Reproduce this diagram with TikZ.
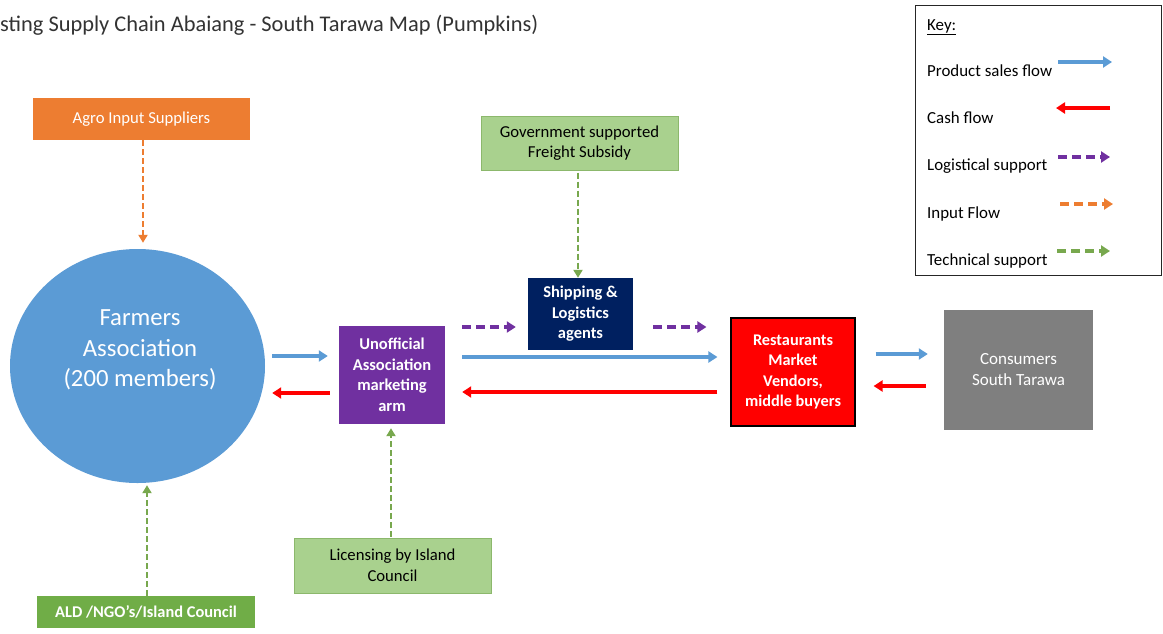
\documentclass[tikz,border=0pt]{standalone}
\usepackage{fontspec}
\setmainfont{Carlito}
\usetikzlibrary{arrows.meta,calc,shapes.geometric}
\definecolor{cblue}{HTML}{5B9BD5}
\definecolor{cred}{HTML}{FF0000}
\definecolor{cpurple}{HTML}{7030A0}
\definecolor{corange}{HTML}{ED7D31}
\definecolor{cgreen}{HTML}{70AD47}
\definecolor{clgreen}{HTML}{A9D18E}
\definecolor{clgreenb}{HTML}{8CB86C}
\definecolor{cnavy}{HTML}{002060}
\definecolor{cgray}{HTML}{7F7F7F}
\definecolor{cdash}{HTML}{78A84E}
\tikzset{
  box/.style={rectangle, inner sep=0pt, align=center, font=\fontsize{16.7}{20.5}\selectfont},
  wbox/.style={box, text=white},
  salesarrow/.style={draw=cblue, line width=3.5pt, -{Triangle[width=11pt,length=9pt]}},
  casharrow/.style={draw=cred, line width=3.5pt, -{Triangle[width=11pt,length=9pt]}},
  logiarrow/.style={draw=cpurple, line width=3.5pt, dash pattern=on 9pt off 5pt, -{Triangle[width=11pt,length=9pt]}},
  inputarrow/.style={draw=corange, line width=2.5pt, dash pattern=on 6pt off 3pt, -{Triangle[width=9pt,length=8pt]}},
  techarrow/.style={draw=cdash, line width=2.5pt, dash pattern=on 6pt off 3pt, -{Triangle[width=9pt,length=8pt]}},
  keyinput/.style={draw=corange, line width=3.5pt, dash pattern=on 9pt off 5pt, -{Triangle[width=11pt,length=9pt]}},
  keytech/.style={draw=cdash, line width=3.5pt, dash pattern=on 9pt off 5pt, -{Triangle[width=11pt,length=9pt]}},
  keytext/.style={anchor=base west, inner sep=0pt, font=\fontsize{16.9}{18}\selectfont},
}
\begin{document}
\begin{tikzpicture}[x=1pt,y=-1pt]
\useasboundingbox (0,0) rectangle (1163,633);
\fill[white] (0,0) rectangle (1163,633);

% title
\node[anchor=base west, inner sep=0pt, font=\fontsize{22.4}{26}\selectfont, text=black!80] (title) at (0,31) {sting Supply Chain Abaiang - South Tarawa Map (Pumpkins)};

% nodes
\node[wbox, fill=corange, minimum width=217pt, minimum height=42pt] (agro) at (141.5,119) {Agro Input Suppliers};
\node[ellipse, fill=cblue, minimum width=255pt, minimum height=234pt, inner sep=0pt] (farm) at (137.5,366) {};
\node[text=white, align=center, inner sep=0pt, font=\fontsize{24.7}{30.5}\selectfont] (farmt) at (140,350) {Farmers\\Association\\(200 members)};
\node[wbox, fill=cgreen, minimum width=218pt, minimum height=32pt, font=\fontsize{16.4}{18}\bfseries\selectfont] (ald) at (146,612) {ALD /NGO's/Island Council};
\node[wbox, fill=cpurple, minimum width=106pt, minimum height=98pt, font=\fontsize{16.5}{20.5}\bfseries\selectfont] (unof) at (392,375) {Unofficial\\Association\\marketing\\arm};
\node[box, fill=clgreen, draw=clgreenb, line width=1pt, minimum width=197pt, minimum height=55pt] (lic) at (392.5,565.5) {Licensing by Island\\Council};
\node[box, fill=clgreen, draw=clgreenb, line width=1pt, minimum width=197pt, minimum height=54pt] (gov) at (579.5,143) {Government supported\\Freight Subsidy};
\node[wbox, fill=cnavy, minimum width=105pt, minimum height=72pt, font=\fontsize{16.5}{20.5}\bfseries\selectfont] (ship) at (580.5,314) {Shipping \&\\Logistics\\agents};
\node[wbox, fill=cred, draw=black, line width=1.2pt, minimum width=124pt, minimum height=108pt, font=\fontsize{16.3}{20.3}\bfseries\selectfont] (rest) at (793,372) {Restaurants\\Market\\Vendors,\\middle buyers};
\node[wbox, fill=cgray, minimum width=149pt, minimum height=120pt, font=\fontsize{17}{21}\selectfont] (cons) at (1018.5,370) {Consumers\\South Tarawa};

% connectors
\draw[inputarrow, shorten >=6pt] (agro.south -| 143,0) -- (farm.north -| 143,0);
\draw[techarrow, shorten >=2pt] (ald.north -| 147,0) -- (farm.south -| 147,0);
\draw[salesarrow, shorten <=7pt, shorten >=11pt] (farm.east |- 0,356) -- (unof.west |- 0,356);
\draw[casharrow, shorten <=9pt, shorten >=7pt] (unof.west |- 0,393) -- (farm.east |- 0,393);
\draw[techarrow, shorten <=1pt, shorten >=4pt] (lic.north -| 391,0) -- (unof.south -| 391,0);
\draw[techarrow, shorten <=2pt, shorten >=0pt] (gov.south -| 578,0) -- (ship.north -| 578,0);
\draw[logiarrow, shorten <=17pt, shorten >=12pt] (unof.east |- 0,327) -- (ship.west |- 0,327);
\draw[logiarrow, shorten <=20pt, shorten >=24pt] (ship.east |- 0,327) -- (rest.west |- 0,327);
\draw[salesarrow, shorten <=17pt, shorten >=13pt] (unof.east |- 0,357) -- (rest.west |- 0,357);
\draw[casharrow, shorten <=13pt, shorten >=17pt] (rest.west |- 0,392) -- (unof.east |- 0,392);
\draw[salesarrow, shorten <=20pt, shorten >=16pt] (rest.east |- 0,354) -- (cons.west |- 0,354);
\draw[casharrow, shorten <=18pt, shorten >=18pt] (cons.west |- 0,386) -- (rest.east |- 0,386);

% key
\node[draw=black!85, line width=1.3pt, minimum width=246pt, minimum height=270pt, inner sep=0pt] (key) at (1038.5,140.5) {};
\node[keytext] (keyt) at (927,30) {\underline{Key:}};
\node[keytext] (k1) at (927,76) {Product sales flow};
\node[keytext] (k2) at (927,123) {Cash flow};
\node[keytext] (k3) at (927,170) {Logistical support};
\node[keytext] (k4) at (927,218) {Input Flow};
\node[keytext] (k5) at (927,265) {Technical support};
\coordinate (k1a) at (1058,62); \coordinate (k1b) at (1112,62);
\coordinate (k2a) at (1110,108); \coordinate (k2b) at (1056,108);
\coordinate (k3a) at (1058,157); \coordinate (k3b) at (1110,157);
\coordinate (k4a) at (1060,204); \coordinate (k4b) at (1113,204);
\coordinate (k5a) at (1057,251); \coordinate (k5b) at (1110,251);
\draw[salesarrow] (k1a) -- (k1b);
\draw[casharrow] (k2a) -- (k2b);
\draw[logiarrow] (k3a) -- (k3b);
\draw[keyinput] (k4a) -- (k4b);
\draw[keytech] (k5a) -- (k5b);
\end{tikzpicture}
\end{document}
